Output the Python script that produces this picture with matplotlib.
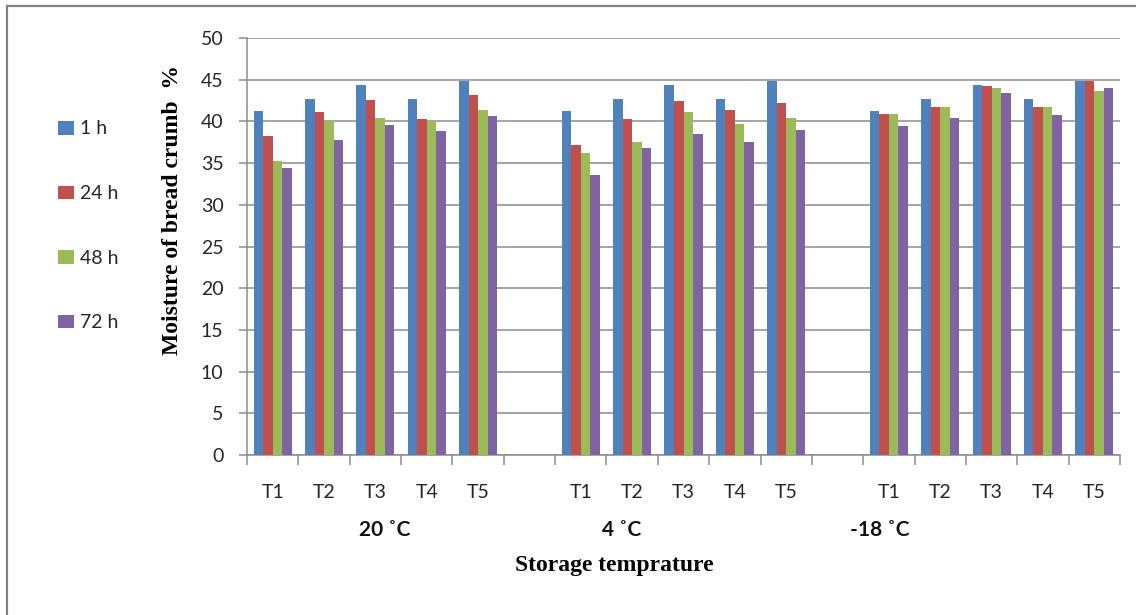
import numpy as np
import matplotlib
matplotlib.use("Agg")
from matplotlib import pyplot as plt
from matplotlib.lines import Line2D
from matplotlib.patches import Patch

# categories: three storage temperatures, five treatments each, blank slot between groups
treatments = ["T1", "T2", "T3", "T4", "T5"]
temperatures = ["20 \u02daC", "4 \u02daC", "-18 \u02daC"]
series_names = ["1 h", "24 h", "48 h", "72 h"]

# moisture (%) per temperature -> per treatment, one list per storage time
h1 = [[41.3, 42.7, 44.4, 42.7, 44.8],
      [41.3, 42.7, 44.4, 42.7, 44.8],
      [41.3, 42.7, 44.4, 42.7, 44.8]]
h24 = [[38.3, 41.1, 42.6, 40.3, 43.2],
       [37.2, 40.3, 42.4, 41.4, 42.2],
       [40.9, 41.7, 44.2, 41.7, 44.8]]
h48 = [[35.2, 40.0, 40.4, 40.1, 41.4],
       [36.2, 37.5, 41.1, 39.7, 40.4],
       [40.9, 41.7, 44.0, 41.7, 43.6]]
h72 = [[34.4, 37.8, 39.6, 38.8, 40.6],
       [33.6, 36.8, 38.5, 37.5, 39.0],
       [39.4, 40.4, 43.4, 40.8, 44.0]]

colors = ["#4F81BD", "#C0504D", "#9BBB59", "#8064A2"]
group_label_x = [2.18, 6.8, 11.83]
sans = ["Lato", "DejaVu Sans"]

fig = plt.figure(figsize=(11.36, 6.15), dpi=100)
ax = fig.add_axes([247 / 1136, 1 - 455 / 615, (1120 - 247) / 1136, (455 - 38) / 615])

# x slot of each category (skip a blank slot after every group)
slots = []
labels = []
for g in range(len(temperatures)):
    for t, name in enumerate(treatments):
        slots.append(g * 6 + t)
        labels.append(name)
slots = np.array(slots)

bw = 0.185
for i, data in enumerate([h1, h24, h48, h72]):
    vals = np.concatenate(data)
    ax.bar(slots + (i - 1.5) * bw, vals, width=bw, color=colors[i],
           edgecolor="none", zorder=3)

ax.set_xlim(-0.5, 16.5)
ax.set_ylim(0, 50)
ax.set_yticks(np.arange(0, 51, 5))
ax.yaxis.grid(True, color="#8c8c8c", lw=1.1, zorder=0)
ax.set_axisbelow(True)

ax.set_xticks(np.arange(-0.5, 17, 1))
ax.set_xticklabels([])
ax.set_xticks(slots, minor=True)
ax.set_xticklabels(labels, minor=True)
ax.tick_params(axis="x", which="major", length=7, color="#8c8c8c", width=1.1)
ax.tick_params(axis="x", which="minor", length=0, pad=21, labelsize=14,
               labelcolor="#262626")
ax.tick_params(axis="y", length=6, color="#8c8c8c", width=1.1, pad=11,
               labelsize=14, labelcolor="#262626")
for lab in ax.get_xticklabels(minor=True) + ax.get_yticklabels():
    lab.set_family(sans)

for s in ["top", "right"]:
    ax.spines[s].set_visible(False)
for s in ["left", "bottom"]:
    ax.spines[s].set_color("#8c8c8c")
    ax.spines[s].set_linewidth(1.1)

trans = ax.get_xaxis_transform()
for x, name in zip(group_label_x, temperatures):
    ax.text(x, -0.18, name, transform=trans, ha="center", va="center",
            fontsize=15, fontweight="bold", family=sans, color="#111111")

fig.text(614 / 1136, 1 - 566 / 615, "Storage temprature", ha="center", va="center",
         fontsize=17, fontweight="bold", family="Liberation Serif")
fig.text(172 / 1136, 1 - 210 / 615, "Moisture of bread crumb  %", ha="center",
         va="center", rotation=90, fontsize=17, fontweight="bold",
         family="Liberation Serif")

handles = [Patch(facecolor=c, edgecolor="none") for c in colors]
leg = fig.legend(handles, series_names, loc="upper left",
                 bbox_to_anchor=(40 / 1136, 1 - 103 / 615), frameon=False,
                 handlelength=0.85, handleheight=0.7, handletextpad=0.3,
                 labelspacing=2.45, prop={"family": sans, "size": 14})
for t in leg.get_texts():
    t.set_color("#262626")

# outer frame of the embedded chart
fig.add_artist(Line2D([7 / 1136, 1.0], [1 - 6 / 615, 1 - 6 / 615],
                      color="#808080", lw=1.6))
fig.add_artist(Line2D([7 / 1136, 7 / 1136], [0, 1 - 6 / 615],
                      color="#808080", lw=1.6))

fig.savefig("out.png", dpi=100)
